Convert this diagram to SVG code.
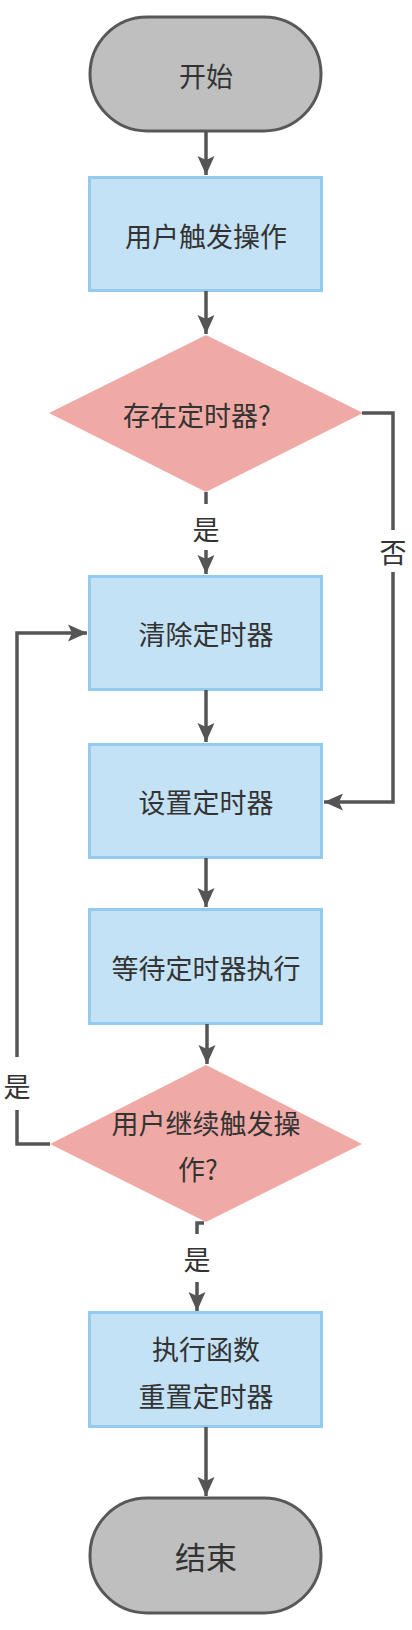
<svg xmlns="http://www.w3.org/2000/svg" width="412" height="1630" viewBox="0 0 412 1630">
<style>
.term{fill:#bfbfbf;stroke:#585858;stroke-width:3}
.box{fill:#c4e2f5;stroke:#94caed;stroke-width:3}
.dia{fill:#f0aaa6}
.t{font-family:"Noto Sans CJK SC","Noto Sans",sans-serif;font-size:27px;fill:#333;text-anchor:middle;dominant-baseline:central}
.c{fill:none;stroke:#555;stroke-width:3.5}
</style>
<defs>
<marker id="ah" markerUnits="userSpaceOnUse" markerWidth="24" markerHeight="20" viewBox="-20 -10 22 20" refX="0" refY="0" orient="auto">
<path d="M0,0 L-19,-8.5 L-15,0 L-19,8.5 Z" fill="#555"/>
</marker>
</defs>
<rect width="412" height="1630" fill="#fff"/>
<g id="start"><rect class="term" x="90" y="17" width="231" height="114" rx="57"/><text class="t" x="206" y="75">开始</text></g>
<g id="n1"><rect class="box" x="89.5" y="177.5" width="232" height="113"/><text class="t" x="206" y="235">用户触发操作</text></g>
<g id="d1"><polygon class="dia" points="206,335 363,413 206,492 49,413"/><text class="t" x="197" y="414">存在定时器?</text></g>
<g id="n2"><rect class="box" x="89.5" y="576.5" width="232" height="113"/><text class="t" x="206" y="633">清除定时器</text></g>
<g id="n3"><rect class="box" x="89.5" y="744.5" width="232" height="113"/><text class="t" x="206" y="801">设置定时器</text></g>
<g id="n4"><rect class="box" x="89.5" y="909.5" width="232" height="114"/><text class="t" x="206" y="967">等待定时器执行</text></g>
<g id="d2"><polygon class="dia" points="206,1065 362,1144 206,1222 50,1144"/><text class="t" x="206" y="1122">用户继续触发操</text><text class="t" x="198" y="1168">作?</text></g>
<g id="n5"><rect class="box" x="89.5" y="1312.5" width="232" height="114"/><text class="t" x="206" y="1348">执行函数</text><text class="t" x="206" y="1395">重置定时器</text></g>
<g id="end"><rect class="term" x="90" y="1498" width="231" height="115" rx="57"/><text class="t" x="206" y="1555" style="font-size:31px">结束</text></g>
<g id="connectors">
<path class="c" d="M206,131 V175" marker-end="url(#ah)"/>
<path class="c" d="M206,291 V334" marker-end="url(#ah)"/>
<path class="c" d="M206,492 V504"/>
<path class="c" d="M206,550 V574" marker-end="url(#ah)"/>
<text class="t" x="206" y="528">是</text>
<path class="c" d="M362,413 H393 V530"/>
<text class="t" x="393" y="551">否</text>
<path class="c" d="M393,572 V802 H324" marker-end="url(#ah)"/>
<path class="c" d="M206,690 V742" marker-end="url(#ah)"/>
<path class="c" d="M206,858 V907" marker-end="url(#ah)"/>
<path class="c" d="M207,1024 V1064" marker-end="url(#ah)"/>
<path class="c" d="M50,1144 H17 V1110"/>
<text class="t" x="17" y="1085">是</text>
<path class="c" d="M17,1057 V633 H87" marker-end="url(#ah)"/>
<path class="c" d="M204,1223 H197 V1234"/>
<text class="t" x="197" y="1258">是</text>
<path class="c" d="M197,1282 V1311" marker-end="url(#ah)"/>
<path class="c" d="M206,1427 V1496" marker-end="url(#ah)"/>
</g>
</svg>
